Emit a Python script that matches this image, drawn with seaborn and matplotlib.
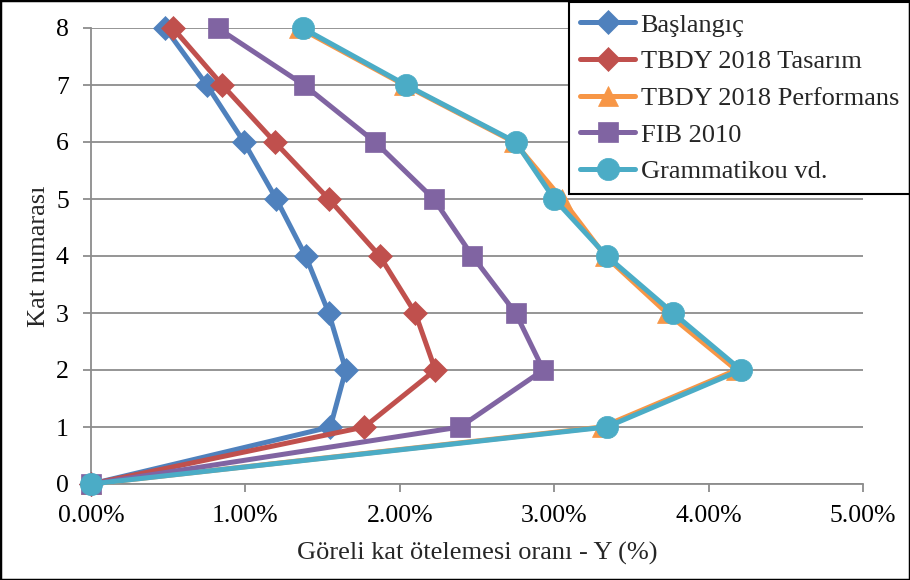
import matplotlib
matplotlib.use("Agg")
import matplotlib.pyplot as plt
import seaborn as sns
import pandas as pd
from matplotlib.ticker import FuncFormatter
from matplotlib.patches import Rectangle

floors = [0, 1, 2, 3, 4, 5, 6, 7, 8]
baslangic = [0.0, 1.55, 1.65, 1.54, 1.39, 1.20, 0.99, 0.75, 0.48]
tbdy_tasarim = [0.0, 1.77, 2.23, 2.10, 1.87, 1.54, 1.19, 0.85, 0.53]
tbdy_performans = [0.0, 3.31, 4.18, 3.73, 3.33, 3.05, 2.74, 2.03, 1.35]
fib_2010 = [0.0, 2.39, 2.93, 2.75, 2.47, 2.22, 1.84, 1.38, 0.82]
grammatikou = [0.0, 3.34, 4.21, 3.77, 3.34, 3.00, 2.75, 2.04, 1.37]

series_names = ["Başlangıç", "TBDY 2018 Tasarım", "TBDY 2018 Performans", "FIB 2010", "Grammatikou vd."]
series_values = [baslangic, tbdy_tasarim, tbdy_performans, fib_2010, grammatikou]
colors = ["#4F81BD", "#C0504D", "#F79646", "#8064A2", "#4BACC6"]
markers = ["D", "D", "^", "s", "o"]
msizes = [12, 12, 14, 15, 16]

sns.set_theme(style="white")
plt.rcParams['font.family'] = ['Liberation Serif', 'DejaVu Serif']

fig = plt.figure(figsize=(9.1, 5.8), dpi=100)
ax = fig.add_axes([91/910, 1 - 484/580, (863-91)/910, (484-28)/580])

for name, vals, c, m, ms in zip(series_names, series_values, colors, markers, msizes):
    df = pd.DataFrame({"x": vals, "y": floors})
    sns.lineplot(data=df, x="x", y="y", sort=False, estimator=None, ax=ax, color=c,
                 marker=m, markersize=ms, markeredgecolor=c, markeredgewidth=0.5,
                 linewidth=3.6, label=name, clip_on=False, zorder=3)

ax.set_xlim(0, 5)
ax.set_ylim(0, 8)
ax.set_xticks([0, 1, 2, 3, 4, 5])
ax.set_yticks(floors)
ax.xaxis.set_major_formatter(FuncFormatter(lambda v, p: f"{v:.2f}%"))
ax.yaxis.grid(True, color="#8C8C8C", linewidth=1.3)
ax.xaxis.grid(False)
ax.set_axisbelow(True)
for s in ["top", "right"]:
    ax.spines[s].set_visible(False)
for s in ["left", "bottom"]:
    ax.spines[s].set_color("#8C8C8C")
    ax.spines[s].set_linewidth(1.3)
ax.tick_params(axis="both", which="major", labelsize=18.5, color="#8C8C8C",
               length=6, width=1.3, direction="out", colors="black")
ax.tick_params(axis="x", pad=9, bottom=True)
ax.tick_params(axis="y", pad=10, left=True)
for t in ax.get_xticklines() + ax.get_yticklines():
    t.set_color("#8C8C8C")

ax.set_xlabel("Göreli kat ötelemesi oranı - Y (%)", fontsize=19, labelpad=11)
ax.set_ylabel("Kat numarası", fontsize=19, labelpad=4)

ax.get_legend().remove()
handles, labels = ax.get_legend_handles_labels()
leg = fig.legend(handles, labels, loc="upper right", bbox_to_anchor=(1.0, 1.0 - 2/580),
                 bbox_transform=fig.transFigure, fontsize=19, frameon=True,
                 fancybox=False, edgecolor="black", framealpha=1, borderaxespad=0,
                 handlelength=2.1, handletextpad=0.2, labelspacing=0.5,
                 borderpad=0.42)
leg.get_frame().set_linewidth(1.5)

fig.patches.append(Rectangle((0, 0), 1, 1, transform=fig.transFigure, fill=False,
                             edgecolor="black", linewidth=2.5, zorder=10))

fig.savefig("out.png", dpi=100)
